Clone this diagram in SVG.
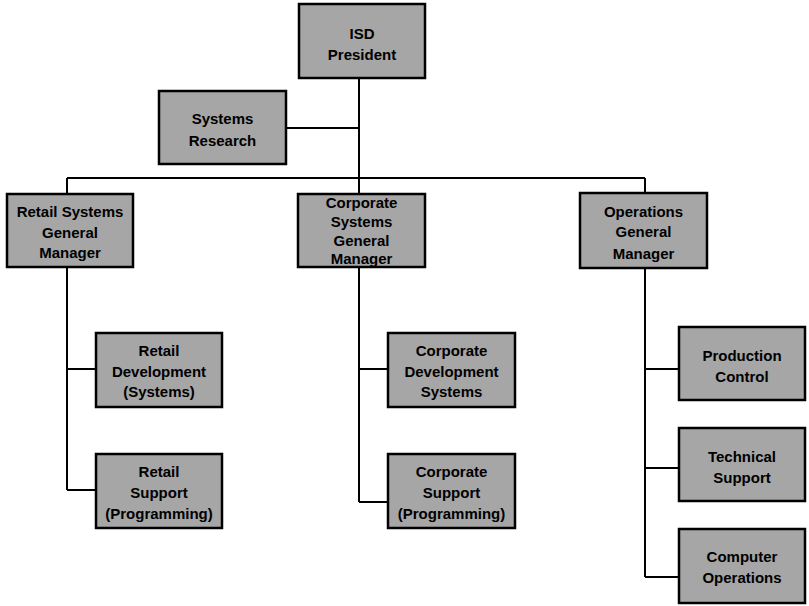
<svg xmlns="http://www.w3.org/2000/svg" width="809" height="606" viewBox="0 0 809 606">
<style>
.box{fill:#a6a6a6;stroke:#000;stroke-width:2.5}
.t{font-family:"Liberation Sans",Arial,Helvetica,sans-serif;font-weight:bold;font-size:15px;fill:#000;text-anchor:middle}
.c{fill:none;stroke:#000;stroke-width:2}
</style>
<rect width="809" height="606" fill="#fff"/>
<g id="connectors">
<path class="c" d="M359,79V502M287,128H359M67,178H645M67,178V490M645,178V577M67,369H95M67,490H95M359,369H387M359,502H387M645,369H678M645,468H678M645,577H678"/>
</g>
<g id="isd-president"><rect class="box" x="299" y="4" width="126" height="74"/><text class="t" x="362" y="39">ISD</text><text class="t" x="362" y="60">President</text></g>
<g id="systems-research"><rect class="box" x="159" y="91" width="127" height="73"/><text class="t" x="222.5" y="124">Systems</text><text class="t" x="222.5" y="146">Research</text></g>
<g id="retail-gm"><rect class="box" x="7" y="194" width="126" height="73"/><text class="t" x="70" y="217">Retail Systems</text><text class="t" x="70" y="238">General</text><text class="t" x="70" y="258">Manager</text></g>
<g id="corporate-gm"><rect class="box" x="298" y="194" width="127" height="73"/><text class="t" x="361.5" y="208">Corporate</text><text class="t" x="361.5" y="227">Systems</text><text class="t" x="361.5" y="246">General</text><text class="t" x="361.5" y="264">Manager</text></g>
<g id="operations-gm"><rect class="box" x="580" y="193" width="127" height="75"/><text class="t" x="643.5" y="217">Operations</text><text class="t" x="643.5" y="237">General</text><text class="t" x="643.5" y="259">Manager</text></g>
<g id="retail-development"><rect class="box" x="96" y="333" width="126" height="74"/><text class="t" x="159" y="356">Retail</text><text class="t" x="159" y="377">Development</text><text class="t" x="159" y="397">(Systems)</text></g>
<g id="retail-support"><rect class="box" x="96" y="454" width="126" height="74"/><text class="t" x="159" y="477">Retail</text><text class="t" x="159" y="498">Support</text><text class="t" x="159" y="519">(Programming)</text></g>
<g id="corporate-development"><rect class="box" x="388" y="333" width="127" height="74"/><text class="t" x="451.5" y="356">Corporate</text><text class="t" x="451.5" y="377">Development</text><text class="t" x="451.5" y="397">Systems</text></g>
<g id="corporate-support"><rect class="box" x="388" y="454" width="127" height="74"/><text class="t" x="451.5" y="477">Corporate</text><text class="t" x="451.5" y="498">Support</text><text class="t" x="451.5" y="519">(Programming)</text></g>
<g id="production-control"><rect class="box" x="679" y="327" width="126" height="73"/><text class="t" x="742" y="361">Production</text><text class="t" x="742" y="382">Control</text></g>
<g id="technical-support"><rect class="box" x="679" y="428" width="126" height="73"/><text class="t" x="742" y="462">Technical</text><text class="t" x="742" y="483">Support</text></g>
<g id="computer-operations"><rect class="box" x="679" y="529" width="126" height="74"/><text class="t" x="742" y="562">Computer</text><text class="t" x="742" y="583">Operations</text></g>
</svg>
